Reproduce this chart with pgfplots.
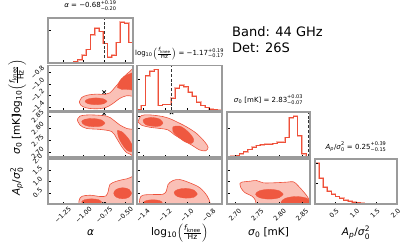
\documentclass[border=0pt]{standalone}
\usepackage{fontspec}
\setmainfont{DejaVu Sans}
\usepackage{pgfplots}
\pgfplotsset{compat=1.18}
\definecolor{cred}{RGB}{238,80,58}
\definecolor{cpink}{RGB}{250,178,166}
\definecolor{clight}{RGB}{250,192,182}
\definecolor{cdark}{RGB}{239,88,64}
\definecolor{cframe}{RGB}{155,155,155}
\newcommand{\fs}[1]{\fontsize{#1}{#1}\selectfont}
\newcommand{\sbs}[2]{\ensuremath{{}_{\hbox{\fs{#1}#2}}}}
\newcommand{\sps}[3]{\ensuremath{{}^{\hbox{\fs{#1}#2}}_{\hbox{\fs{#1}#3}}}}
\newcommand{\lfk}{log\sbs{7.5}{10}$\left(\frac{\hbox{\fs{7.5}\itshape f\sbs{5.5}{\upshape knee}}}{\hbox{\fs{7.5}Hz}}\right)$}
\newcommand{\tfk}{log\sbs{5}{10}$\left(\frac{\hbox{\fs{5.5}\itshape f\sbs{4}{\upshape knee}}}{\hbox{\fs{5.5}Hz}}\right)$}
\pgfplotsset{
  cp/.style={scale only axis, width=85pt, height=45pt, anchor=north west, axis on top,
    tick align=inside, tick pos=left, major tick length=2.5pt,
    axis line style={cframe, line width=1.4pt},
    tick style={black, line width=0.45pt},
    xticklabels={}, yticklabels={},
    clip marker paths=true,
    xticklabel style={font=\fs{6.5}, yshift=-11pt, rotate=45, anchor=center, inner sep=0pt},
    yticklabel style={font=\fs{6.5}, xshift=-10.5pt, rotate=45, anchor=center, inner sep=0pt},
    label style={font=\fs{10.5}, inner sep=0pt},
    xlabel style={at={(axis description cs:0.5,-0.71)}, anchor=base},
    ylabel style={at={(axis description cs:-0.33,0.5)}, anchor=base},
    title style={font=\fs{7}, at={(axis description cs:0.5,1)}, anchor=base, yshift=4pt, inner sep=0pt},
  },
  c1/.style={xmin=-1.43, xmax=-0.40, xtick={-1.25,-1.0,-0.75,-0.5}},
  c2/.style={xmin=-1.455, xmax=-0.68, xtick={-1.4,-1.2,-1.0,-0.8}},
  c3/.style={xmin=2.682, xmax=2.868, xtick={2.70,2.75,2.80,2.85}, width=83pt},
  c4/.style={xmin=0, xmax=2.0, xtick={0.5,1.0,1.5,2.0}, width=82pt},
  r2/.style={ymin=-1.455, ymax=-0.68, ytick={-1.4,-1.2,-1.0,-0.8}},
  r3/.style={ymin=2.682, ymax=2.868, ytick={2.70,2.75,2.80,2.85}},
  r4/.style={ymin=0, ymax=2.0, ytick={0.5,1.0,1.5,2.0}},
  hist/.style={ymin=0, ymax=1.1},
  outer/.style={fill=clight, draw=cred, line width=0.6pt, smooth, tension=0.55},
  inner/.style={fill=cdark, draw=cdark, line width=0.3pt, smooth, tension=0.6},
  hhalo/.style={const plot mark left, draw=cpink, mark=none, line width=1.7pt},
  hline/.style={const plot mark left, draw=cred, mark=none, line width=0.6pt},
  truth/.style={black!80, dashed, dash pattern=on 3pt off 1.8pt, line width=0.9pt},
  tx/.style={only marks, mark=x, mark size=2.4pt, black, line width=0.8pt},
}
\pgfplotstableread{
x h
-1.4300 0
-1.4300 0
-1.3785 0
-1.3270 0
-1.2755 0
-1.2240 0
-1.1725 0.01
-1.1210 0.04
-1.0695 0.08
-1.0180 0.2
-0.9665 0.33
-0.9150 0.69
-0.8635 0.85
-0.8120 0.77
-0.7605 0.48
-0.7090 0.15
-0.6575 0.2
-0.6060 0.5
-0.5545 1.0
-0.5030 0.97
-0.4515 0.5
-0.4000 0.5
-0.4000 0
}\hista
\pgfplotstableread{
x h
-1.4550 0
-1.4550 0.02
-1.4163 0.12
-1.3775 0.85
-1.3388 0.97
-1.3000 1.0
-1.2613 0.12
-1.2225 0.15
-1.1838 0.15
-1.1450 0.3
-1.1063 0.55
-1.0675 0.62
-1.0288 0.58
-0.9900 0.45
-0.9513 0.35
-0.9125 0.2
-0.8738 0.12
-0.8350 0.07
-0.7963 0.04
-0.7575 0.02
-0.7188 0.01
-0.6800 0.01
-0.6800 0
}\histf
\pgfplotstableread{
x h
2.6820 0
2.6820 0.01
2.6913 0.02
2.7006 0.04
2.7099 0.08
2.7192 0.13
2.7285 0.18
2.7378 0.24
2.7471 0.28
2.7564 0.30
2.7657 0.31
2.7750 0.32
2.7843 0.33
2.7936 0.36
2.8029 0.36
2.8122 0.48
2.8215 0.96
2.8308 1.0
2.8401 0.52
2.8494 0.08
2.8587 0
2.8680 0
}\hists
\pgfplotstableread{
x h
0 0
0 1.0
0.1 0.64
0.2 0.42
0.3 0.32
0.4 0.24
0.5 0.18
0.6 0.14
0.7 0.10
0.8 0.07
0.9 0.05
1.0 0.03
1.1 0.02
1.2 0.015
1.3 0.01
1.4 0.007
1.5 0.005
1.6 0.003
1.7 0.002
1.8 0.001
1.9 0
2.0 0
}\histap
\begin{document}
\begin{tikzpicture}
\useasboundingbox (0,0) rectangle (411pt,-248pt);
% ---------- row 1 ----------
\begin{axis}[cp, c1, hist, at={(48pt,-18pt)}, ytick={0.8},
  title={\textit{α} = −0.68\sps{5}{+0.19}{−0.20}}]
\addplot[hhalo] table[x=x, y=h] {\hista};
\addplot[hline] table[x=x, y=h] {\hista};
\addplot[truth] coordinates {(-0.75,0) (-0.75,1.1)};
\end{axis}
% ---------- row 2 ----------
\begin{axis}[cp, c1, r2, at={(48pt,-65.5pt)},
  yticklabels={−1.4,−1.2,−1.0,−0.8}, ylabel={\lfk}]
\addplot[outer] coordinates {(-1.050,-1.308) (-1.022,-1.232) (-0.953,-1.191) (-0.840,-1.173) (-0.739,-1.179) (-0.679,-1.150) (-0.618,-1.056) (-0.558,-0.956) (-0.497,-0.856) (-0.436,-0.780) (-0.35,-0.70) (-0.35,-1.17) (-0.477,-1.20) (-0.558,-1.245) (-0.618,-1.308) (-0.658,-1.349) (-0.739,-1.408) (-0.860,-1.426) (-0.970,-1.408) (-1.030,-1.367) (-1.050,-1.308)};
\addplot[inner] coordinates {(-0.715,-1.297) (-0.754,-1.256) (-0.848,-1.238) (-0.942,-1.256) (-0.981,-1.297) (-0.942,-1.339) (-0.848,-1.356) (-0.754,-1.339) (-0.715,-1.297)};
\addplot[inner] coordinates {(-0.590,-1.056) (-0.566,-0.956) (-0.509,-0.868) (-0.436,-0.821) (-0.35,-0.80) (-0.35,-1.09) (-0.457,-1.091) (-0.537,-1.091) (-0.590,-1.056)};
\addplot[tx] coordinates {(-0.75,-1.14)};
\end{axis}
\begin{axis}[cp, c2, hist, at={(137pt,-65.5pt)}, ytick={0.76},
  title={\tfk{} = −1.17\sps{5}{+0.19}{−0.17}}]
\addplot[hhalo] table[x=x, y=h] {\histf};
\addplot[hline] table[x=x, y=h] {\histf};
\addplot[truth] coordinates {(-1.14,0) (-1.14,1.1)};
\end{axis}
% ---------- row 3 ----------
\begin{axis}[cp, c1, r3, at={(48pt,-112pt)},
  yticklabels={2.70,2.75,2.80,2.85}, ylabel={\textit{σ}\sbs{7.5}{0} [mK]}]
\addplot[outer] coordinates {(-1.075,2.835) (-1.042,2.851) (-0.921,2.856) (-0.719,2.851) (-0.638,2.835) (-0.558,2.814) (-0.477,2.800) (-0.35,2.780) (-0.35,2.65) (-0.416,2.690) (-0.477,2.700) (-0.537,2.725) (-0.598,2.759) (-0.658,2.787) (-0.800,2.796) (-0.961,2.800) (-1.042,2.814) (-1.075,2.835)};
\addplot[inner] coordinates {(-0.740,2.822) (-0.781,2.835) (-0.881,2.841) (-0.981,2.838) (-1.022,2.828) (-0.981,2.813) (-0.881,2.807) (-0.781,2.810) (-0.740,2.822)};
\addplot[inner] coordinates {(-0.590,2.791) (-0.537,2.787) (-0.457,2.759) (-0.404,2.725) (-0.416,2.704) (-0.477,2.711) (-0.537,2.738) (-0.578,2.766) (-0.590,2.791)};
\addplot[tx] coordinates {(-0.75,2.862)};
\end{axis}
\begin{axis}[cp, c2, r3, at={(137pt,-112pt)}]
\addplot[outer] coordinates {(-1.446,2.828) (-1.415,2.853) (-1.339,2.856) (-1.218,2.849) (-1.142,2.838) (-1.096,2.828) (-1.005,2.807) (-0.914,2.780) (-0.838,2.745) (-0.807,2.722) (-0.828,2.708) (-0.883,2.711) (-0.959,2.732) (-1.035,2.752) (-1.111,2.773) (-1.172,2.794) (-1.248,2.800) (-1.339,2.805) (-1.415,2.814) (-1.446,2.828)};
\addplot[inner] coordinates {(-1.218,2.822) (-1.245,2.838) (-1.309,2.845) (-1.373,2.842) (-1.400,2.832) (-1.373,2.815) (-1.309,2.809) (-1.245,2.810) (-1.218,2.822)};
\addplot[inner] coordinates {(-1.127,2.807) (-1.066,2.810) (-0.990,2.787) (-0.938,2.755) (-0.959,2.738) (-1.020,2.745) (-1.081,2.766) (-1.127,2.787) (-1.127,2.807)};
\addplot[tx] coordinates {(-1.14,2.866)};
\end{axis}
\begin{axis}[cp, c3, hist, at={(227pt,-112pt)}, ytick={0.7},
  title={\textit{σ}\sbs{5}{0} [mK] = 2.83\sps{5}{+0.03}{−0.07}}]
\addplot[hhalo] table[x=x, y=h] {\hists};
\addplot[hline] table[x=x, y=h] {\hists};
\addplot[truth] coordinates {(2.864,0) (2.864,1.1)};
\end{axis}
% ---------- row 4 ----------
\begin{axis}[cp, c1, r4, at={(48pt,-159pt)},
  xticklabels={−1.25,−1.00,−0.75,−0.50}, yticklabels={0.5,1.0,1.5,2.0},
  xlabel={\textit{α}}, ylabel={\textit{A}\sbs{7.5}{\itshape p}/\textit{σ}\sps{7.5}{2}{0}}]
\addplot[outer] coordinates {(-1.054,-0.2) (-1.054,0.145) (-1.022,0.333) (-0.921,0.391) (-0.800,0.333) (-0.727,0.362) (-0.699,0.580) (-0.679,0.870) (-0.598,1.014) (-0.477,1.116) (-0.35,1.160) (-0.35,-0.2) (-1.054,-0.2)};
\addplot[inner] coordinates {(-0.78,0.09) (-0.815,0.19) (-0.901,0.23) (-0.987,0.19) (-1.022,0.09) (-0.987,-0.01) (-0.901,-0.05) (-0.815,-0.01) (-0.78,0.09)};
\addplot[inner] coordinates {(-0.416,0.478) (-0.448,0.652) (-0.525,0.724) (-0.602,0.652) (-0.634,0.478) (-0.602,0.304) (-0.525,0.232) (-0.448,0.304) (-0.416,0.478)};
\addplot[tx] coordinates {(-0.75,0.0)};
\end{axis}
\begin{axis}[cp, c2, r4, at={(137pt,-159pt)},
  xticklabels={−1.4,−1.2,−1.0,−0.8}, xlabel={\lfk}]
\addplot[outer] coordinates {(-1.436,-0.4) (-1.430,0.217) (-1.400,0.391) (-1.309,0.420) (-1.218,0.435) (-1.187,0.580) (-1.172,0.870) (-1.127,1.043) (-1.066,1.087) (-0.975,0.942) (-0.883,0.725) (-0.816,0.362) (-0.786,0) (-0.786,-0.4) (-1.436,-0.4)};
\addplot[inner] coordinates {(-1.224,0.072) (-1.249,0.154) (-1.309,0.188) (-1.369,0.154) (-1.394,0.072) (-1.369,-0.010) (-1.309,-0.044) (-1.249,-0.010) (-1.224,0.072)};
\addplot[inner] coordinates {(-0.905,0.44) (-0.936,0.62) (-1.011,0.695) (-1.086,0.64) (-1.117,0.50) (-1.086,0.33) (-1.011,0.261) (-0.936,0.30) (-0.905,0.44)};
\end{axis}
\begin{axis}[cp, c3, r4, at={(227pt,-159pt)},
  xticklabels={2.70,2.75,2.80,2.85}, xlabel={\textit{σ}\sbs{7.5}{0} [mK]}]
\addplot[outer] coordinates {(2.711,0.899) (2.715,0.971) (2.734,1.014) (2.748,1.043) (2.763,0.942) (2.786,0.942) (2.816,0.971) (2.831,0.986) (2.842,0.797) (2.861,0.362) (2.871,0) (2.875,-0.3) (2.748,-0.3) (2.748,-0.1) (2.745,0.188) (2.737,0.362) (2.722,0.507) (2.713,0.725) (2.711,0.899)};
\addplot[inner] coordinates {(2.808,0.435) (2.799,0.59) (2.777,0.652) (2.755,0.59) (2.746,0.435) (2.755,0.28) (2.777,0.218) (2.799,0.28) (2.808,0.435)};
\addplot[inner] coordinates {(2.870,0.072) (2.861,0.256) (2.837,0.332) (2.813,0.256) (2.803,0.072) (2.813,-0.112) (2.837,-0.188) (2.861,-0.112) (2.870,0.072)};
\end{axis}
\begin{axis}[cp, c4, hist, at={(315pt,-159pt)},
  xticklabels={0.5,1.0,1.5,2.0}, xticklabel style={yshift=2pt},
  xlabel={\textit{A}\sbs{7.5}{\itshape p}/\textit{σ}\sps{7.5}{2}{0}},
  title={\textit{A}\sbs{5}{\itshape p}/\textit{σ}\sps{5}{2}{0} = 0.25\sps{5}{+0.39}{−0.15}}]
\addplot[hhalo] table[x=x, y=h] {\histap};
\addplot[hline] table[x=x, y=h] {\histap};
\end{axis}
% ---------- text ----------
\node[anchor=base west, font=\fs{13}, inner sep=0pt] at (232pt,-37pt) {Band: 44 GHz};
\node[anchor=base west, font=\fs{13}, inner sep=0pt] at (232pt,-53pt) {Det: 26S};
\end{tikzpicture}
\end{document}
